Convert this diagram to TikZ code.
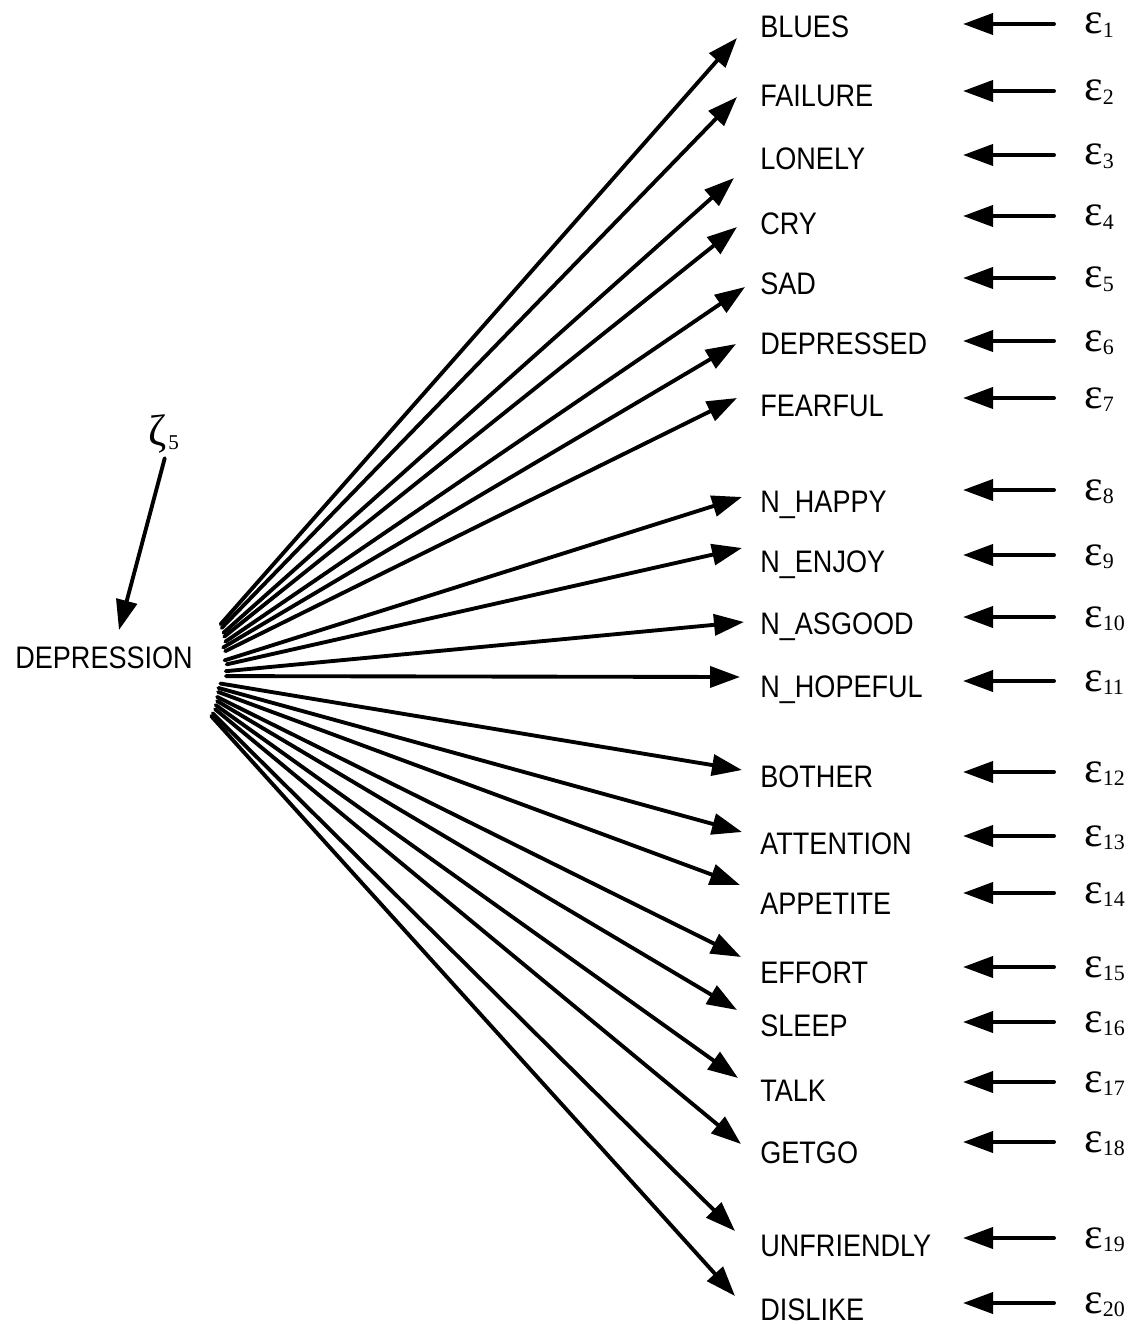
\documentclass[tikz,border=0pt]{standalone}
\usepackage{fontspec}
\setmainfont{Liberation Sans}
\newfontfamily\greekfont{Liberation Serif}
\usetikzlibrary{arrows.meta}

% labels are set a little taller than wide
\newcommand{\tall}[1]{\scalebox{1}[1.15]{#1}}
% error term: epsilon with a lowered index
\newcommand{\errterm}[1]{{\greekfont\fontsize{25}{25}\selectfont ε\raisebox{-1.8pt}{\fontsize{12.5}{12.5}\selectfont #1}}}

\begin{document}
\begin{tikzpicture}[
		x=0.02cm, y=-0.02cm,
		every node/.style={font=\fontsize{15.4}{15.4}\selectfont, inner sep=0pt},
		line cap=round,
		line join=round,
		loading/.style={line width=2.2pt, -{Triangle[length=0.6cm, width=0.42cm]}}
		]
		\useasboundingbox (0,0) rectangle (1127,1324);
		
		% =========================
		% Latent factor
		% =========================
		\node[anchor=base west] (dep) at (15,668) {\tall{DEPRESSION}};
		\coordinate (hub) at (175,676);
		
		\node[anchor=base west] (zeta) at (148,445)
		{{\greekfont\fontsize{25}{25}\selectfont ζ\hspace{1pt}\raisebox{-0.1em}{\fontsize{12}{12}\selectfont 5}}};
		\coordinate (zt) at (119,630);
		\draw[loading, shorten <=3pt] ([xshift=0.05cm]zeta.south) -- (zt);
		
		% --------------------------------
		% Indicators, loadings and errors
		% --------------------------------
		\foreach \n/\txt/\ly/\ey/\sh/\tx/\ty [count=\i] in {
			blues/BLUES/27/24/69/737/38,
			failure/FAILURE/96/91/67/737/97,
			lonely/LONELY/159/155/65/734/178,
			cry/CRY/224/216/63/737/227,
			sad/SAD/284/278/61/745/287,
			depressed/DEPRESSED/343/341/56/736/344,
			fearful/FEARFUL/405/398/56/737/398,
			nhappy/N\_HAPPY/501/490/52/742/497,
			nenjoy/N\_ENJOY/561/555/53/742/548,
			nasgood/N\_ASGOOD/623/617/51/744/622,
			nhopeful/N\_HOPEFUL/686/681/51/740/677,
			bother/BOTHER/776/772/46/742/770,
			attention/ATTENTION/843/836/45/742/832,
			appetite/APPETITE/903/893/46/740/885,
			effort/EFFORT/972/967/47/741/957,
			sleep/SLEEP/1025/1022/49/737/1010,
			talk/TALK/1090/1082/50/738/1078,
			getgo/GETGO/1152/1142/52/741/1144,
			unfriendly/UNFRIENDLY/1245/1238/53/735/1231,
			dislike/DISLIKE/1309/1303/54/735/1296
		}
		{
			\node[anchor=base west] (\n) at (760,\ly+11) {\tall{\txt}};
			\coordinate (t\i) at (\tx,\ty);
			\draw[loading, shorten <=\sh*0.02cm] (hub) -- (t\i);
			
			\node[anchor=base west] (e\i) at (1084,\ey+10) {\errterm{\i}};
			\coordinate (h\i) at (963,\ey);
			\draw[loading, shorten <=0.6cm] (e\i.west |- h\i) -- (h\i);
		}
		
	\end{tikzpicture}
\end{document}
